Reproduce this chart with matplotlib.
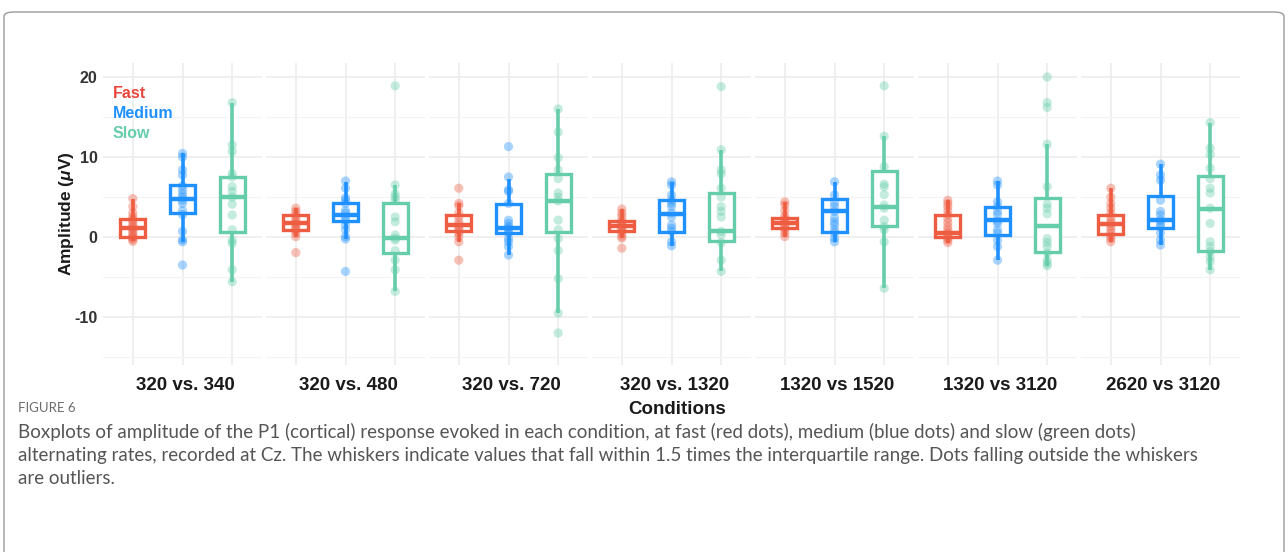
import numpy as np
import matplotlib
matplotlib.use("Agg")
import matplotlib.pyplot as plt
from matplotlib.patches import FancyBboxPatch

plt.rcParams['font.family'] = ['Liberation Sans', 'DejaVu Sans']
plt.rcParams['axes.unicode_minus'] = False
plt.rcParams['mathtext.fontset'] = 'custom'
plt.rcParams['mathtext.rm'] = 'Liberation Sans:bold'
plt.rcParams['mathtext.it'] = 'Liberation Sans:italic:bold'
plt.rcParams['mathtext.bf'] = 'Liberation Sans:bold'

conditions = ["320 vs. 340", "320 vs. 480", "320 vs. 720", "320 vs. 1320",
              "1320 vs 1520", "1320 vs 3120", "2620 vs 3120"]
rates = ["Fast", "Medium", "Slow"]
colors = ["#EE5C42", "#1E90FF", "#66CDAA"]

# box statistics: (q1, median, q3, whisker_low, whisker_high)
fast_box = [(0.05, 1.1, 2.25, -0.55, 4.8), (0.9, 1.8, 2.7, 0.05, 3.6),
            (0.8, 1.5, 2.75, -0.6, 4.2), (0.8, 1.4, 2.05, -0.15, 3.5),
            (1.15, 1.8, 2.35, 0.05, 4.4), (-0.05, 0.45, 2.75, -0.7, 4.6),
            (0.35, 1.6, 2.75, -0.6, 6.1)]
medium_box = [(2.95, 4.7, 6.45, -0.6, 10.45), (1.95, 2.75, 4.3, -0.25, 6.9),
              (0.55, 1.1, 4.1, -2.25, 7.3), (0.65, 2.85, 4.6, -1.1, 6.9),
              (0.65, 3.2, 4.7, -0.6, 6.9), (0.25, 2.1, 3.7, -2.9, 7.0),
              (1.1, 2.1, 5.15, -1.0, 9.1)]
slow_box = [(0.65, 4.95, 7.55, -5.6, 16.8), (-2.05, -0.15, 4.2, -6.8, 6.5),
            (0.65, 4.5, 7.9, -9.5, 16.0), (-0.5, 0.75, 5.5, -4.3, 10.9),
            (1.4, 3.7, 8.3, -6.4, 12.6), (-1.85, 1.4, 4.85, -3.6, 11.6),
            (-1.8, 3.55, 7.6, -4.1, 14.3)]

# individual amplitudes (µV)
fast_pts = [
    [4.8, 3.8, 3.0, 2.5, 2.2, 2.0, 1.6, 1.3, 1.1, 0.9, 0.6, 0.3, 0.05, -0.1, -0.3, -0.55],
    [3.6, 3.2, 2.8, 2.5, 2.1, 1.8, 1.6, 1.3, 1.0, 0.8, 0.45, 0.05, -1.95],
    [6.1, 4.2, 3.9, 3.0, 2.5, 1.9, 1.5, 1.2, 0.9, 0.5, 0.05, -0.6, -2.9],
    [3.5, 3.0, 2.6, 2.1, 1.8, 1.5, 1.3, 1.0, 0.8, 0.5, 0.1, -0.15, -1.4],
    [4.4, 4.0, 3.3, 2.6, 2.3, 2.0, 1.8, 1.5, 1.2, 0.9, 0.5, 0.05],
    [4.6, 4.2, 3.8, 3.3, 2.8, 2.3, 1.8, 1.3, 0.9, 0.5, 0.2, -0.1, -0.4, -0.7],
    [6.1, 5.0, 4.2, 3.6, 3.0, 2.5, 2.0, 1.7, 1.3, 0.9, 0.5, 0.1, -0.2, -0.6],
]
medium_pts = [
    [10.45, 10.0, 8.4, 7.75, 6.4, 5.9, 5.4, 5.0, 4.6, 4.2, 3.3, 2.8, 0.7, -0.35, -0.6, -3.5],
    [7.0, 6.1, 4.9, 4.6, 4.2, 3.3, 3.0, 2.5, 2.1, 1.5, 0.9, 0.05, -0.25, -4.3],
    [11.3, 7.5, 5.9, 5.7, 4.2, 2.1, 1.7, 1.3, 1.1, 0.9, 0.5, -0.2, -0.6, -1.2, -2.25],
    [6.9, 6.5, 5.25, 4.6, 4.2, 3.8, 3.0, 2.5, 1.5, 1.1, 0.7, -0.6, -1.1],
    [6.9, 5.25, 4.3, 3.8, 3.2, 2.4, 1.9, 1.5, 0.9, 0.5, -0.15, -0.6],
    [7.0, 6.5, 4.4, 3.8, 3.2, 2.75, 2.0, 1.7, 0.9, 0.5, -0.4, -1.2, -2.9],
    [9.1, 7.75, 7.1, 4.6, 3.2, 2.75, 2.1, 1.7, 1.3, 0.5, -0.4, -1.0],
]
slow_pts = [
    [16.8, 11.5, 10.7, 7.95, 7.5, 6.3, 5.7, 5.0, 4.1, 2.75, 0.9, -0.4, -0.8, -4.1, -5.6],
    [18.9, 6.5, 5.4, 5.0, 4.6, 2.5, 1.9, 0.25, -0.15, -0.4, -1.7, -2.9, -4.1, -6.8],
    [16.0, 13.1, 9.9, 8.4, 7.3, 5.5, 5.0, 4.5, 2.1, 0.9, -0.2, -1.7, -5.2, -9.5, -12.0],
    [18.8, 10.9, 8.4, 7.9, 6.1, 5.0, 3.8, 3.2, 2.5, 0.7, 0.25, -0.7, -2.9, -4.3],
    [18.9, 12.6, 8.8, 6.6, 6.3, 5.3, 4.0, 3.6, 2.1, 1.3, 0.9, -0.6, -6.4],
    [20.0, 16.8, 16.2, 11.6, 6.3, 4.1, 3.6, 2.9, -0.2, -0.7, -1.2, -2.0, -2.9, -3.3, -3.6],
    [14.3, 11.1, 10.3, 8.6, 7.3, 6.1, 5.5, 3.6, 1.7, -0.6, -1.2, -1.8, -2.5, -3.1, -4.1],
]
y_major = [-10, 0, 10, 20]
y_minor = [-15, -5, 5, 15]

W, H = 1288, 552
fig = plt.figure(figsize=(W / 100, H / 100), dpi=100)

def fx(px):
    return px / W

def fy(py):
    return 1 - py / H

# outer frame (bottom edge runs past the image)
frame = FancyBboxPatch((fx(4), fy(590)), fx(1280), 578 / H,
                       boxstyle="round,pad=0,rounding_size=0.008",
                       transform=fig.transFigure, facecolor='none',
                       edgecolor='#9a9a9a', lw=1.0, clip_on=False)
fig.patches.append(frame)

boxes = [fast_box, medium_box, slow_box]
points = [fast_pts, medium_pts, slow_pts]

panel_left0, panel_w, pitch = 103, 159, 163
top_px, bot_px = 63, 365

for k, cond in enumerate(conditions):
    left = panel_left0 + pitch * k
    ax = fig.add_axes([fx(left), fy(bot_px), fx(panel_w), (bot_px - top_px) / H])

    for r in range(3):
        q1, med, q3, lo, hi = boxes[r][k]
        st = [dict(q1=q1, med=med, q3=q3, whislo=lo, whishi=hi, fliers=[])]
        c = colors[r]
        ax.bxp(st, positions=[r + 1], widths=0.5, showcaps=False, showfliers=False,
               patch_artist=True, manage_ticks=False,
               boxprops=dict(facecolor='white', edgecolor=c, lw=2.4),
               whiskerprops=dict(color=c, lw=2.6, solid_capstyle='butt'),
               medianprops=dict(color=c, lw=3.2, solid_capstyle='butt'),
               zorder=2)
        vals = np.array(points[r][k])
        ax.scatter(np.full(len(vals), r + 1), vals, s=44, color=c, alpha=0.38,
                   edgecolors='none', zorder=3)

    ax.set_xlim(0.4, 3.6)
    ax.set_ylim(-16.0, 21.75)
    ax.set_yticks(y_major)
    ax.set_yticks(y_minor, minor=True)
    ax.set_xticks([1, 2, 3])
    ax.set_xticklabels([])
    ax.grid(which='major', color='#EBEBEB', lw=1.1, zorder=0)
    ax.grid(which='minor', axis='y', color='#F3F3F3', lw=0.8, zorder=0)
    ax.set_axisbelow(True)
    for s in ax.spines.values():
        s.set_visible(False)
    ax.tick_params(which='both', length=0)
    if k == 0:
        ax.tick_params(axis='y', labelsize=11.5, pad=4, labelcolor='#333333')
        for lbl in ax.get_yticklabels():
            lbl.set_fontweight('bold')
    else:
        ax.set_yticklabels([])

    fig.text(fx(left + panel_w / 2 + 3), fy(386), cond, ha='center', va='center',
             fontsize=13.5, fontweight='bold', color='#1a1a1a')

    if k == 0:
        for r, (name, ly) in enumerate(zip(rates, [18.0, 15.5, 13.0])):
            ax.text(0.6, ly, name, color=colors[r] if r else '#E8453C', fontsize=11.5,
                    fontweight='bold', ha='left', va='center', zorder=4)

fig.text(fx(66), fy(214), r"Amplitude ($\mu$V)", rotation=90, ha='center', va='center',
         fontsize=12.5, fontweight='bold', color='#1a1a1a')
fig.text(fx(677), fy(409), "Conditions", ha='center', va='center',
         fontsize=13.5, fontweight='bold', color='#1a1a1a')

cap_font = ['Lato', 'DejaVu Sans']
fig.text(fx(18), fy(408), "FIGURE 6", ha='left', va='center', fontsize=9.5,
         color='#6b6b6b', family=cap_font)
caption = [
    "Boxplots of amplitude of the P1 (cortical) response evoked in each condition, at fast (red dots), medium (blue dots) and slow (green dots)",
    "alternating rates, recorded at Cz. The whiskers indicate values that fall within 1.5 times the interquartile range. Dots falling outside the whiskers",
    "are outliers.",
]
for i, line in enumerate(caption):
    fig.text(fx(18), fy(432 + 23 * i), line, ha='left', va='center', fontsize=13.5,
             color='#555555', family=cap_font)

fig.savefig("out.png", dpi=100)
